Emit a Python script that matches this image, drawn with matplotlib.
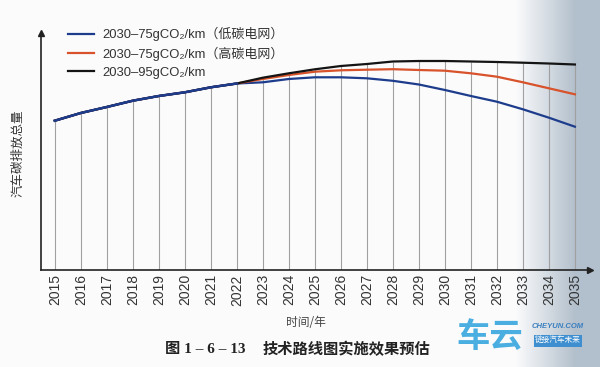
import numpy as np
import matplotlib
matplotlib.use("Agg")
import matplotlib.pyplot as plt
from matplotlib.lines import Line2D

plt.rcParams['font.family'] = ['Liberation Sans', 'Noto Sans CJK SC', 'DejaVu Sans']

years = list(range(2015, 2036))
shared = [149.3, 157.0, 163.0, 169.3, 174.0, 177.7, 182.7, 186.5]
low_grid_75 = shared + [187.7, 191.0, 192.7, 192.7, 191.7, 189.2, 185.5, 180.0, 174.0, 168.3, 160.7, 152.3, 143.3]
high_grid_75 = shared + [191.0, 195.0, 198.3, 199.7, 200.3, 200.8, 200.0, 199.3, 196.7, 193.3, 187.7, 181.7, 175.7]
target_95 = shared + [192.3, 196.7, 200.7, 204.0, 206.0, 208.5, 209.0, 209.0, 208.5, 208.0, 207.3, 206.5, 205.5]

series_labels = ["2030–75gCO₂/km（低碳电网）",
                 "2030–75gCO₂/km（高碳电网）",
                 "2030–95gCO₂/km"]
series_colors = ["#1d3c8c", "#d8532b", "#141414"]
ylabel = "汽车碳排放总量"
xlabel = "时间/年"
caption_num = "图 1 – 6 – 13"
caption_txt = "技术路线图实施效果预估"

fig = plt.figure(figsize=(6.0, 3.67), dpi=100)

# background (photo tint)
bg = fig.add_axes([0, 0, 1, 1], zorder=-10)
g = np.linspace(0, 1, 600)
w = np.clip((g - 0.86) / 0.1, 0, 1)
white = np.array([0.985, 0.985, 0.99])
blue = np.array([0.70, 0.75, 0.80])
row = white[None, :] * (1 - w[:, None]) + blue[None, :] * w[:, None]
img = np.repeat(row[None, :, :], 10, axis=0)
bg.imshow(img, aspect='auto', extent=[0, 1, 0, 1])
bg.set_xlim(0, 1); bg.set_ylim(0, 1)
bg.axis('off')

ax = fig.add_axes([41/600, 1 - 270/367, (590-41)/600, (270-33)/367])
ax.patch.set_alpha(0)
ax.set_xlim(2014.47, 2035.58)
ax.set_ylim(0, 237)

ax.vlines(years, 0, target_95, colors="#a0a0a0", linewidth=0.8, zorder=1)

for vals, col, lab in zip([low_grid_75, high_grid_75, target_95], series_colors, series_labels):
    ax.plot(years, vals, color=col, linewidth=1.6, zorder=3, label=lab)
ax.plot(years[:8], shared, color=series_colors[0], linewidth=1.8, zorder=4)

for s in ['top', 'right']:
    ax.spines[s].set_visible(False)
for s in ['left', 'bottom']:
    ax.spines[s].set_color("#222222")
    ax.spines[s].set_linewidth(1.2)
ax.plot(1, 0, ">", color="#222222", markersize=5, transform=ax.transAxes, clip_on=False)
ax.plot(0, 1, "^", color="#222222", markersize=5, transform=ax.transAxes, clip_on=False)

ax.set_xticks(years)
ax.set_xticklabels([str(y) for y in years], rotation=90, fontsize=10, color="#333333")
ax.tick_params(axis='x', length=0, pad=3)
ax.set_yticks([])

handles = [Line2D([0], [0], color=c, linewidth=1.6) for c in series_colors]
leg = ax.legend(handles, series_labels, loc='upper left', bbox_to_anchor=(0.04, 1.047),
                frameon=False, handlelength=2.0, handletextpad=0.6,
                labelspacing=0.42, borderaxespad=0,
                prop={'family': ['Liberation Sans', 'Noto Sans CJK SC', 'DejaVu Sans'], 'size': 9.4})
for t in leg.get_texts():
    t.set_color("#333333")

fig.text(18/600, 1 - 153/367, ylabel, rotation=90, ha='center', va='center',
         fontsize=9, color="#333333", family=['Noto Sans CJK SC'])
fig.text(306/600, 1 - 322/367, xlabel, ha='center', va='center',
         fontsize=8.5, color="#444444", family=['Noto Sans CJK SC'])
fig.text(205/600, 1 - 349/367, caption_num, ha='center', va='center',
         fontsize=11, color="#222222", fontweight='bold', family=['Liberation Serif', 'Noto Sans CJK SC'])
fig.text(346/600, 1 - 349/367, caption_txt, ha='center', va='center',
         fontsize=11, color="#222222", fontweight='bold', family=['Noto Sans CJK SC'])

# watermark
fig.text(490/600, 1 - 337/367, "车云", ha='center', va='center', fontsize=24,
         color="#4aaee0", fontweight='bold', style='italic', family=['Noto Sans CJK SC'])
fig.text(558/600, 1 - 327/367, "CHEYUN.COM", ha='center', va='center', fontsize=5.5,
         color="#3a7fc0", style='italic', fontweight='bold')
fig.text(558/600, 1 - 341/367, "链接汽车未来", ha='center', va='center', fontsize=5.5,
         color="white", family=['Noto Sans CJK SC'],
         bbox=dict(boxstyle='square,pad=0.2', facecolor='#3f8fd0', edgecolor='none'))

fig.savefig("out.png", dpi=100)
